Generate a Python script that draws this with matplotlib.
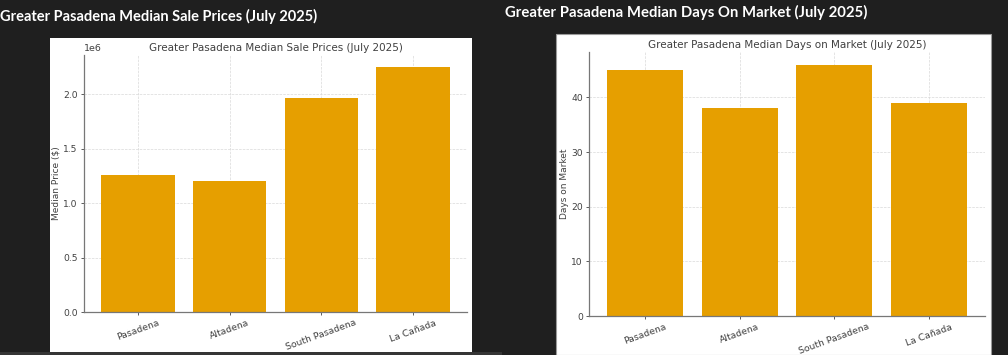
#!/usr/bin/env python3
"""Greater Pasadena median sale prices and days on market, July 2025."""
import matplotlib
matplotlib.use("Agg")
import matplotlib.pyplot as plt
from matplotlib.patches import Rectangle

# Data
areas = ["Pasadena", "Altadena", "South Pasadena", "La Cañada"]
median_price = [1_255_000, 1_205_000, 1_970_000, 2_250_000]
median_dom = [45, 38, 46, 39]

BG = "#1f1f1f"
BAR = "#E69F00"
TXT = "#404040"

fig = plt.figure(figsize=(10.08, 3.55), dpi=100, facecolor=BG)

# white card panels behind the two charts
fig.patches.append(Rectangle((50 / 1008, 3 / 355), 422 / 1008, 314 / 355,
                             transform=fig.transFigure, facecolor="white", edgecolor="none", zorder=-1))
fig.patches.append(Rectangle((0, 0), 502 / 1008, 3 / 355,
                             transform=fig.transFigure, facecolor="#353535", edgecolor="none", zorder=-1))
fig.patches.append(Rectangle((556 / 1008, 0), 435 / 1008, 321 / 355,
                             transform=fig.transFigure, facecolor="white", edgecolor="#9a9a9a",
                             linewidth=0.8, zorder=-1))

fig.text(0.0, 1 - 16 / 355, "Greater Pasadena Median Sale Prices (July 2025)",
         color="white", fontsize=10.5, fontweight="bold", family="Lato", va="center", ha="left")
fig.text(505 / 1008, 1 - 12 / 355, "Greater Pasadena Median Days On Market (July 2025)",
         color="white", fontsize=10.7, fontweight="bold", family="Lato", va="center", ha="left")


def style(ax, title, ylabel, label_x):
    ax.set_facecolor("white")
    ax.set_title(title, fontsize=7.5, color=TXT, pad=3)
    ax.set_ylabel(ylabel, fontsize=6.5, color=TXT)
    ax.yaxis.set_label_coords(label_x, 0.5)
    ax.tick_params(axis="both", labelsize=6.6, colors=TXT, length=2.5, width=0.6, pad=2)
    ax.tick_params(axis="x", labelrotation=20)
    for lbl in ax.get_xticklabels():
        lbl.set_fontsize(6.7)
    ax.spines["top"].set_visible(False)
    ax.spines["right"].set_visible(False)
    for s in ("left", "bottom"):
        ax.spines[s].set_color("#777777")
        ax.spines[s].set_linewidth(0.9)
    ax.grid(True, linestyle="--", linewidth=0.5, color="#d5d5d5", alpha=0.9)
    ax.set_axisbelow(True)
    ax.yaxis.get_offset_text().set_fontsize(6.8)
    ax.yaxis.get_offset_text().set_color(TXT)


ax1 = fig.add_axes([84 / 1008, 1 - 312 / 355, 383 / 1008, 257 / 355])
ax1.bar(areas, median_price, color=BAR, width=0.8)
style(ax1, "Greater Pasadena Median Sale Prices (July 2025)", "Median Price ($)", -23 / 383)

ax2 = fig.add_axes([589 / 1008, 1 - 316 / 355, 396 / 1008, 264 / 355])
ax2.bar(areas, median_dom, color=BAR, width=0.8)
ax2.set_yticks([0, 10, 20, 30, 40])
style(ax2, "Greater Pasadena Median Days on Market (July 2025)", "Days on Market", -20 / 396)

fig.savefig("out.png", dpi=100, facecolor=BG)
